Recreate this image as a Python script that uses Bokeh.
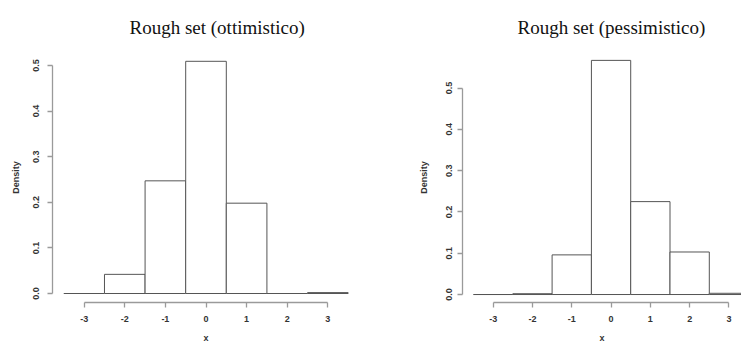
from bokeh.plotting import figure
from bokeh.models import Range1d, FixedTicker, PrintfTickFormatter, ColumnDataSource
from bokeh.layouts import row
from bokeh.embed import file_html
from bokeh.resources import INLINE

# Histogram data
bin_left = [-3.5, -2.5, -1.5, -0.5, 0.5, 1.5, 2.5]
bin_right = [-2.5, -1.5, -0.5, 0.5, 1.5, 2.5, 3.5]
density_ottimistico = [0.0, 0.042, 0.247, 0.509, 0.198, 0.0, 0.002]
density_pessimistico = [0.0, 0.002, 0.096, 0.567, 0.225, 0.103, 0.003]
x_ticks = [-3, -2, -1, 0, 1, 2, 3]
y_ticks = [0.0, 0.1, 0.2, 0.3, 0.4, 0.5]
titles = ["Rough set (ottimistico)", "Rough set (pessimistico)"]

LABEL_FONT = "Liberation Sans"


def make_panel(title, dens, width, xr, yr, border_left, border_right, title_offset,
               ylab_standoff, yaxis_label_standoff):
    p = figure(width=width, height=345, output_backend="svg", toolbar_location=None,
               x_range=Range1d(*xr), y_range=Range1d(*yr),
               min_border_left=border_left, min_border_right=border_right,
               min_border_top=52, min_border_bottom=42)
    p.outline_line_color = None
    p.grid.visible = False
    p.background_fill_color = "white"
    p.border_fill_color = "white"

    p.title.text = title
    p.title.align = "left"
    p.title.text_font = "Liberation Serif"
    p.title.text_font_size = "19px"
    p.title.text_font_style = "normal"
    p.title.text_color = "#111111"
    p.title.standoff = 29
    p.title.offset = title_offset

    src = ColumnDataSource(dict(left=bin_left, right=bin_right,
                                top=dens, bottom=[0.0] * len(dens)))
    p.quad(left="left", right="right", top="top", bottom="bottom", source=src,
           fill_color="white", line_color="#555555", line_width=1)

    for ax in (p.xaxis, p.yaxis):
        ax.axis_line_color = "#9a9a9a"
        ax.axis_line_width = 1.3
        ax.major_tick_line_color = "#9a9a9a"
        ax.major_tick_line_width = 1.3
        ax.major_tick_out = 5
        ax.major_tick_in = 0
        ax.minor_tick_line_color = None
        ax.major_label_text_font = LABEL_FONT
        ax.major_label_text_font_size = "9px"
        ax.major_label_text_font_style = "bold"
        ax.major_label_text_color = "#333333"
        ax.axis_label_text_font = LABEL_FONT
        ax.axis_label_text_font_size = "9px"
        ax.axis_label_text_font_style = "bold"
        ax.axis_label_text_color = "#333333"

    p.xaxis.ticker = FixedTicker(ticks=x_ticks)
    p.xaxis.formatter = PrintfTickFormatter(format="%d")
    p.xaxis.bounds = (x_ticks[0], x_ticks[-1])
    p.xaxis.axis_label = "x"
    p.xaxis.major_label_standoff = 8
    p.xaxis.axis_label_standoff = 8

    p.yaxis.ticker = FixedTicker(ticks=y_ticks)
    p.yaxis.formatter = PrintfTickFormatter(format="%.1f")
    p.yaxis.bounds = (y_ticks[0], y_ticks[-1])
    p.yaxis.axis_label = "Density"
    p.yaxis.major_label_orientation = "vertical"
    p.yaxis.major_label_standoff = ylab_standoff
    p.yaxis.axis_label_standoff = yaxis_label_standoff
    return p


p1 = make_panel(titles[0], density_ottimistico, 370, (-3.78, 3.78), (-0.0197, 0.5283),
                52, 11, 77, 8, 10)
p2 = make_panel(titles[1], density_pessimistico, 371, (-3.78, 3.319), (-0.0193, 0.5861),
                92, 0, 55, 5, 15)

layout = row(p1, p2)
open("out.html", "w").write(file_html(layout, INLINE))
